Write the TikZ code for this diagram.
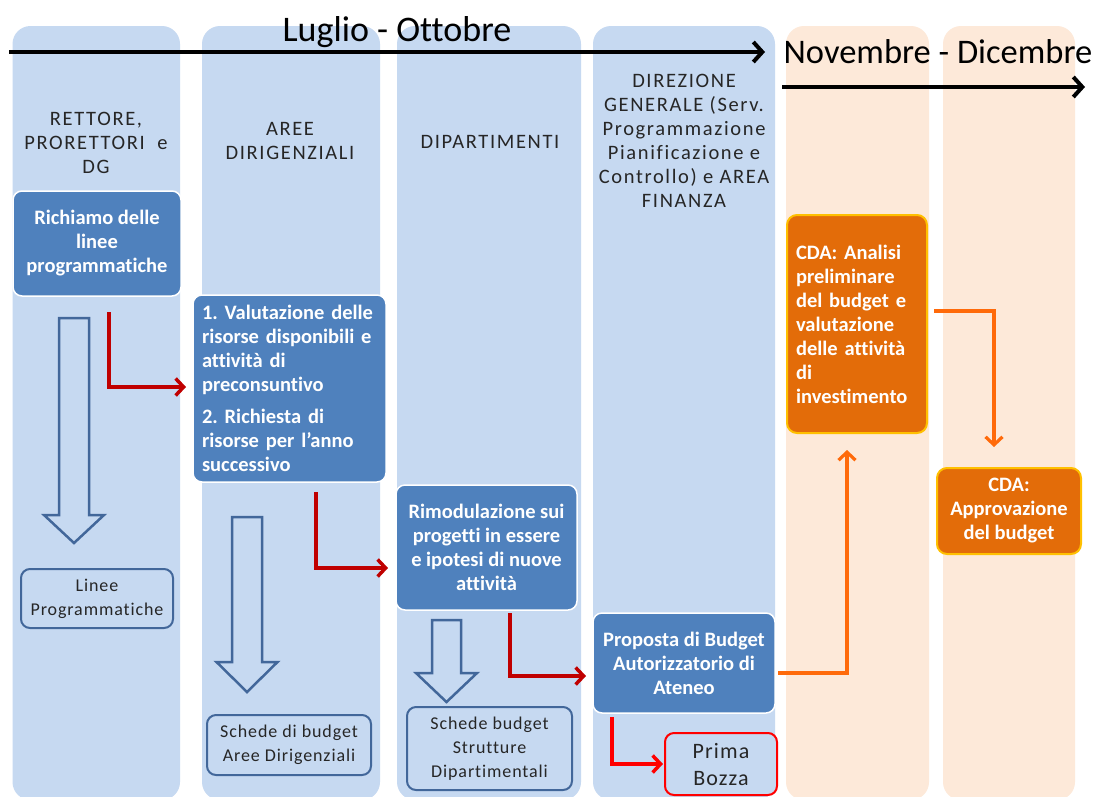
\documentclass[tikz,border=0pt]{standalone}
\usepackage{fontspec}
\setmainfont{Carlito}[Ligatures=NoCommon]
\newfontfamily\spacedfont{Carlito}[LetterSpace=8,Ligatures=NoCommon]
\newfontfamily\lightspaced{Carlito}[LetterSpace=5,Ligatures=NoCommon]
\usetikzlibrary{arrows.meta}
\definecolor{colblue}{HTML}{C6D9F1}
\definecolor{colpeach}{HTML}{FDE9D9}
\definecolor{boxblue}{HTML}{4F81BD}
\definecolor{edgeblue}{HTML}{42679A}
\definecolor{boxorange}{HTML}{E36C09}
\definecolor{edgegold}{HTML}{FFC000}
\definecolor{darkred}{HTML}{C00000}
\definecolor{brightred}{HTML}{FF0000}
\definecolor{arroworange}{HTML}{FF6A0A}
\newcommand{\blockarr}[6]{%
  \draw[hollow] (#1-#5,#2) -- (#1+#5,#2) -- (#1+#5,#3) -- (#1+#6,#3) -- (#1,#4) -- (#1-#6,#3) -- (#1-#5,#3) -- cycle;}
\frenchspacing
\begin{document}
\begin{tikzpicture}[x=1pt,y=-1pt,
  colb/.style={fill=colblue, rounded corners=18pt},
  colp/.style={fill=colpeach, rounded corners=18pt},
  bluebox/.style={fill=boxblue, draw=white, line width=1.5pt, rounded corners=9pt, text=white,
    font=\fontsize{20.5}{24}\selectfont\bfseries, inner sep=0pt},
  orangebox/.style={fill=boxorange, draw=edgegold, line width=2pt, rounded corners=10pt, text=white,
    font=\fontsize{20.5}{24}\selectfont\bfseries, inner sep=0pt},
  outbox/.style={draw=edgeblue, line width=2pt, rounded corners=9pt, fill=colblue, text=black!85,
    font=\fontsize{18}{24}\lightspaced, inner sep=0pt, align=center},
  hdr/.style={font=\fontsize{20.5}{24}\spacedfont, text=black!85, align=center, inner sep=0pt},
  hollow/.style={draw=edgeblue, line width=2.5pt, fill=colblue, line join=miter},
  timeline/.style={draw=black, line width=4pt, -{Straight Barb[length=9pt,width=20pt]}},
  redarrow/.style={draw=darkred, line width=3.5pt, -{Straight Barb[length=8pt,width=17pt]}},
  brightarrow/.style={draw=brightred, line width=3.5pt, -{Straight Barb[length=8pt,width=17pt]}},
  orangearrow/.style={draw=arroworange, line width=3.2pt, -{Straight Barb[length=8pt,width=17pt]}}
]
\useasboundingbox (0,0) rectangle (1094,796);
\fill[white] (0,0) rectangle (1094,796);

% columns
\path[colb] (12.5,26) rectangle (180,800);
\path[colb] (202,26) rectangle (380,800);
\path[colb] (397,26) rectangle (581,800);
\path[colb] (593,26) rectangle (775,800);
\path[colp] (786,26) rectangle (929,800);
\path[colp] (943,26) rectangle (1075,800);

% timelines
\node[anchor=base, font=\fontsize{36}{40}\selectfont, inner sep=0pt] (t1) at (397,41) {Luglio - Ottobre};
\node[anchor=base, font=\fontsize{34.5}{40}\selectfont, inner sep=0pt] (t2) at (938,63) {Novembre - Dicembre};
\coordinate (a1s) at (9,52);
\coordinate (a1e) at (765,52);
\coordinate (a2s) at (782,87);
\coordinate (a2e) at (1085,87);
\draw[timeline] (a1s) -- (a1e);
\draw[timeline] (a2s) -- (a2e);

% headers
\node[hdr] (h1) at (96,143) {RETTORE,\\PRORETTORI \ e\\DG};
\node[hdr] (h2) at (290,141) {AREE\\DIRIGENZIALI};
\node[hdr] (h3) at (490,142) {DIPARTIMENTI};
\node[hdr] (h4) at (684,141) {DIREZIONE\\GENERALE (Serv.\\Programmazione\\Pianificazione e\\Controllo) e AREA\\FINANZA};

% blue process boxes
\node[bluebox, minimum width=168pt, minimum height=105pt, align=center] (b1) at (97,243.5)
  {Richiamo delle\\linee\\programmatiche};
\node[bluebox, minimum width=193pt, minimum height=187pt, text width=175pt, align=left] (b2) at (289.5,388.5)
  {1. Valutazione delle\\risorse disponibili e\\attività di\\preconsuntivo\\[8pt]2. Richiesta di\\risorse per l’anno\\successivo};
\node[bluebox, minimum width=181pt, minimum height=125pt, align=center] (b3) at (486.5,547.5)
  {Rimodulazione sui\\progetti in essere\\e ipotesi di nuove\\attività};
\node[bluebox, minimum width=182pt, minimum height=100pt, align=center] (b4) at (684,663)
  {Proposta di Budget\\Autorizzatorio di\\Ateneo};

% orange boxes
\node[orangebox, minimum width=140pt, minimum height=218pt, text width=122pt, align=left] (c1) at (857,324)
  {CDA: Analisi\\preliminare\\del budget e\\valutazione\\delle attività\\di\\investimento};
\node[orangebox, minimum width=144pt, minimum height=86pt, align=center] (c2) at (1009,511)
  {CDA:\\Approvazione\\del budget};

% outlined output boxes
\node[outbox, minimum width=152pt, minimum height=59pt] (o1) at (97,598.5) {Linee\\Programmatiche};
\node[outbox, minimum width=164pt, minimum height=60pt] (o2) at (289,745) {Schede di budget\\Aree Dirigenziali};
\node[outbox, minimum width=165pt, minimum height=83pt] (o3) at (489.5,748.5) {Schede budget\\Strutture\\Dipartimentali};
\node[outbox, draw=brightred, minimum width=112pt, minimum height=62pt, font=\fontsize{22}{27}\lightspaced] (o4) at (721,764) {Prima\\Bozza};

% hollow block arrows
\blockarr{74}{318}{515}{543}{15}{30}
\blockarr{247}{517}{662}{692}{15}{30.5}
\blockarr{446.5}{620}{673}{702}{14.5}{30.5}

% red connectors
\coordinate (r1s) at (109,312);
\coordinate (r1e) at (186,387);
\draw[redarrow] (r1s) |- (r1e);
\coordinate (r2s) at (316,492);
\coordinate (r2e) at (388,568);
\draw[redarrow] (r2s) |- (r2e);
\coordinate (r3s) at (510,613);
\coordinate (r3e) at (586,676);
\draw[redarrow] (r3s) |- (r3e);
\coordinate (r4s) at (612,717);
\draw[brightarrow] (r4s) |- ([xshift=-1pt]o4.west);

% orange connectors
\coordinate (q1s) at (778,673);
\coordinate (q1e) at (847,450);
\draw[orangearrow] (q1s) -| (q1e);
\coordinate (q2s) at (934,311);
\coordinate (q2e) at (994,447);
\draw[orangearrow] (q2s) -| (q2e);
\end{tikzpicture}
\end{document}
